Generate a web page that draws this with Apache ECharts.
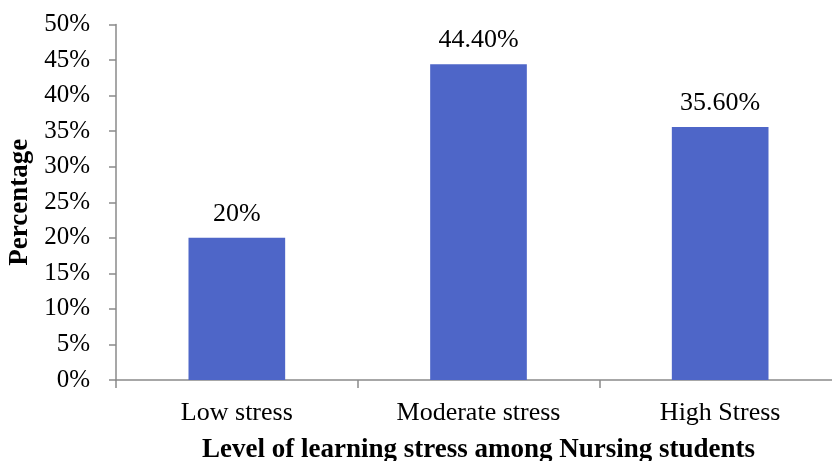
<!DOCTYPE html>
<html><head><meta charset="utf-8">
<script src="https://cdn.jsdelivr.net/npm/echarts@6/dist/echarts.min.js"></script>
<style>html,body{margin:0;padding:0;background:#fff}#c{width:832px;height:461px}</style>
</head><body><div id="c"></div>
<script>
const categories = ['Low stress', 'Moderate stress', 'High Stress'];
const values = [20, 44.4, 35.6];
const valueLabels = ['20%', '44.40%', '35.60%'];
const yTicks = [0, 5, 10, 15, 20, 25, 30, 35, 40, 45, 50];
const xTitle = 'Level of learning stress among Nursing students';
const yTitle = 'Percentage';

const font = '"Liberation Serif", "Times New Roman", serif';
const axisColor = '#8a8a8a';
const chart = echarts.init(document.getElementById('c'), null, {renderer: 'canvas'});
chart.setOption({
  animation: false,
  grid: {left: 116, right: -9, top: 24.5, bottom: 81, containLabel: false, outerBoundsMode: 'none'},
  xAxis: {
    type: 'category',
    data: categories,
    name: xTitle,
    nameLocation: 'middle',
    nameGap: 57,
    nameTextStyle: {fontFamily: font, fontSize: 27, fontWeight: 'bold', color: '#000'},
    axisLine: {lineStyle: {color: axisColor, width: 1.5}},
    axisTick: {show: true, length: 8, lineStyle: {color: axisColor, width: 1.5}},
    axisLabel: {fontFamily: font, fontSize: 26, color: '#000', margin: 20}
  },
  yAxis: {
    type: 'value',
    min: yTicks[0],
    max: yTicks[yTicks.length - 1],
    interval: 5,
    name: yTitle,
    nameLocation: 'middle',
    nameGap: 82,
    nameRotate: 90,
    nameTextStyle: {fontFamily: font, fontSize: 27, fontWeight: 'bold', color: '#000'},
    splitLine: {show: false},
    axisLine: {show: true, lineStyle: {color: axisColor, width: 1.5}},
    axisTick: {show: true, length: 7, lineStyle: {color: axisColor, width: 1.5}},
    axisLabel: {fontFamily: font, fontSize: 25, color: '#000', margin: 26, formatter: v => v + '%'}
  },
  series: [{
    type: 'bar',
    data: values,
    barWidth: '40%',
    itemStyle: {color: '#4e66c8'},
    label: {
      show: true, position: 'top', distance: 11,
      fontFamily: font, fontSize: 26, color: '#000',
      formatter: p => valueLabels[p.dataIndex]
    }
  }]
});
</script></body></html>
